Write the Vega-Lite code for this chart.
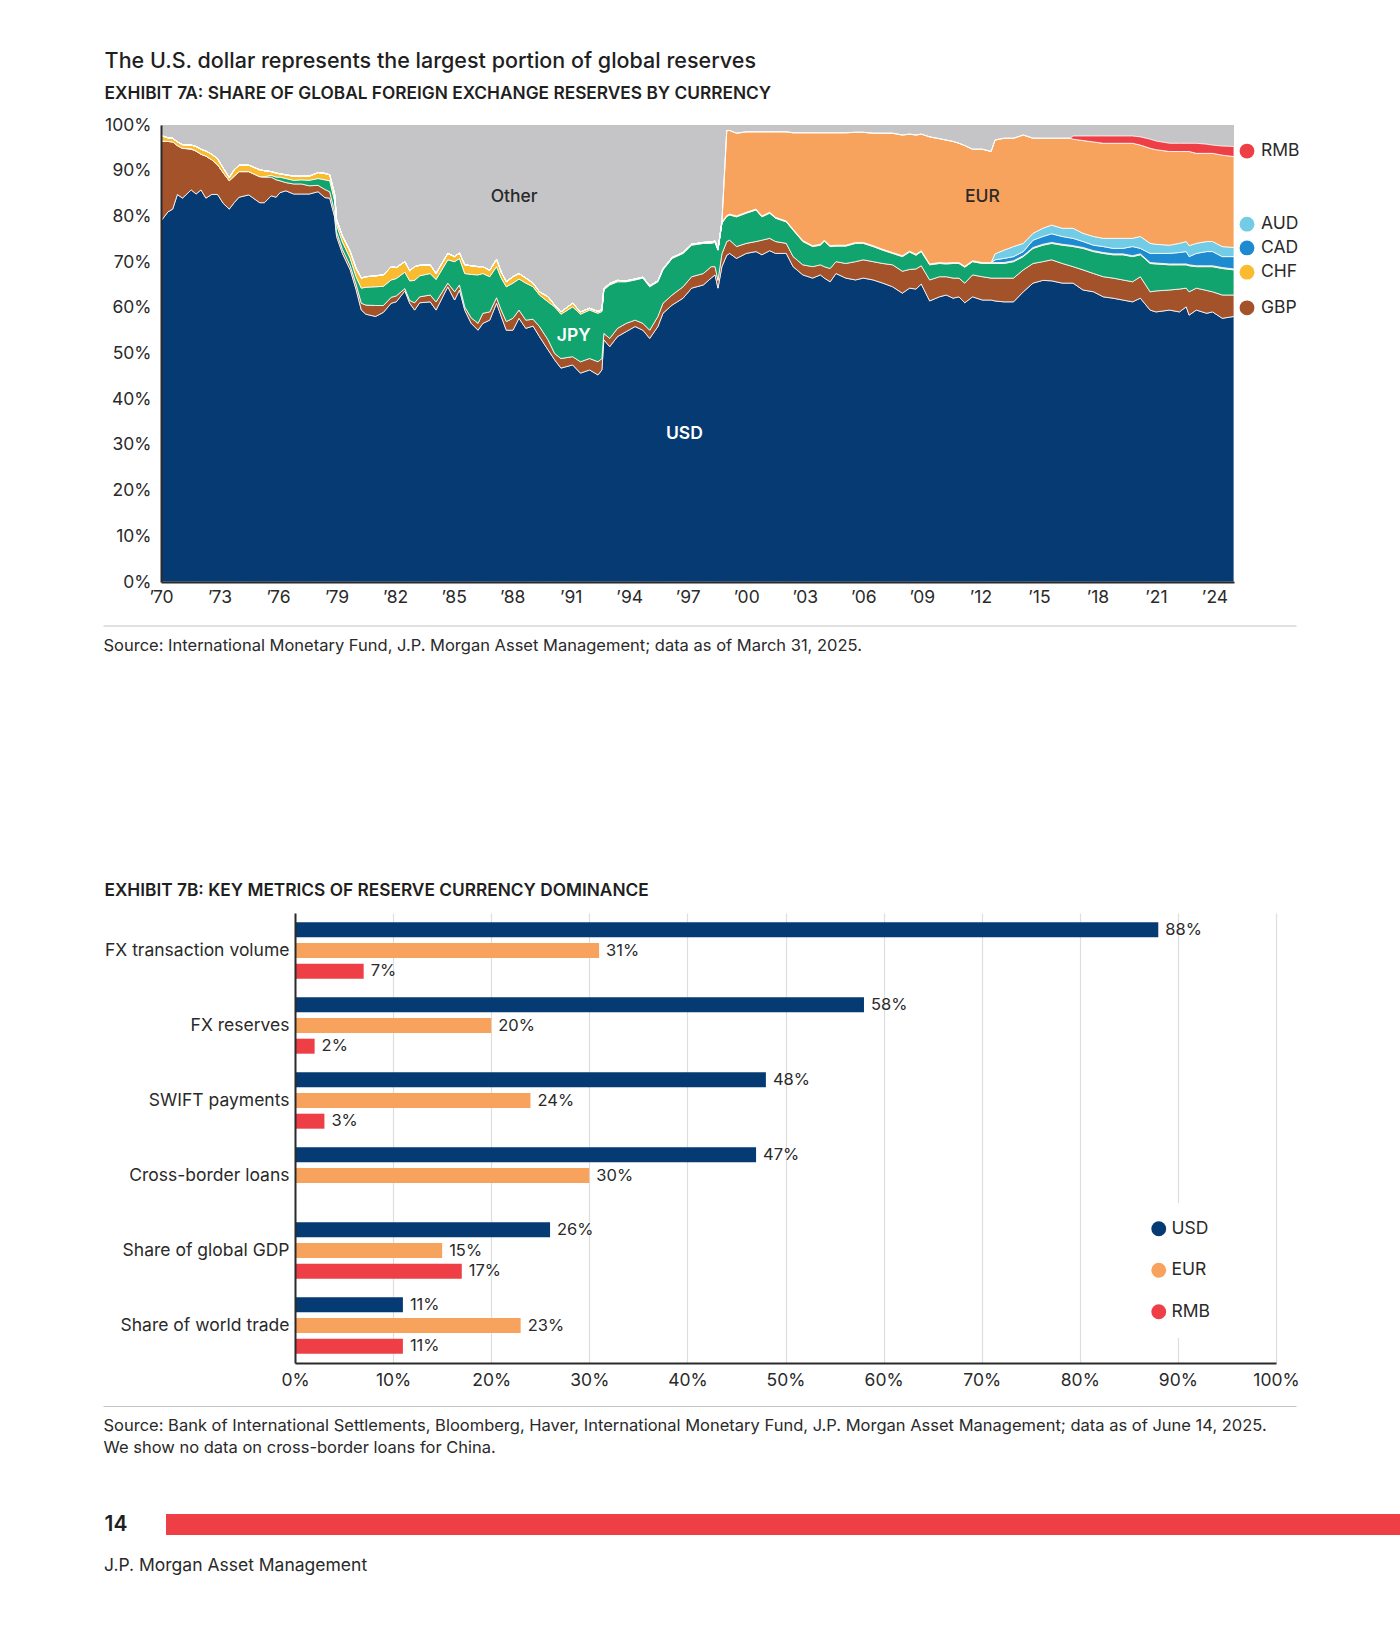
{
"$schema": "https://vega.github.io/schema/vega-lite/v6.json",
"padding": {"left": 103, "top": 50, "right": 0, "bottom": 0},
"background": "white",
"config": {"font": "Inter", "view": {"stroke": null}, "axis": {"labelColor": "#2a2a2a", "labelFontSize": 17.5}, "concat": {"spacing": 0}},
"resolve": {"scale": {"color": "independent"}, "legend": {"color": "independent"}},
"concat": [
{"concat": [
{"width": 1, "height": 1, "data": {"values": []}, "mark": "point"},
{
"width": 1073, "height": 457,
"view": {"fill": "#c5c5c7"},
"title": {"text": "The U.S. dollar represents the largest portion of global reserves", "subtitle": "EXHIBIT 7A: SHARE OF GLOBAL FOREIGN EXCHANGE RESERVES BY CURRENCY", "anchor": "start", "frame": "bounds", "fontSize": 21.5, "fontWeight": 500, "color": "#1f1f1f", "subtitleFontSize": 17.3, "subtitleFontWeight": 600, "subtitleColor": "#1f1f1f", "subtitlePadding": 12.5, "offset": 14},
"layer": [
{
"data": {"values": [
{"t":1970.0,"USD":79.0,"GBP":17.5,"JPY":0,"CHF":1.2,"CAD":0,"AUD":0,"EUR":0,"RMB":0},
{"t":1970.36,"USD":81.0,"GBP":15.4,"JPY":0,"CHF":0.8,"CAD":0,"AUD":0,"EUR":0,"RMB":0},
{"t":1970.6,"USD":81.6,"GBP":14.7,"JPY":0,"CHF":0.8,"CAD":0,"AUD":0,"EUR":0,"RMB":0},
{"t":1970.84,"USD":84.8,"GBP":10.7,"JPY":0,"CHF":0.8,"CAD":0,"AUD":0,"EUR":0,"RMB":0},
{"t":1971.1,"USD":84.0,"GBP":10.9,"JPY":0,"CHF":0.8,"CAD":0,"AUD":0,"EUR":0,"RMB":0},
{"t":1971.55,"USD":85.8,"GBP":8.9,"JPY":0.1,"CHF":0.8,"CAD":0,"AUD":0,"EUR":0,"RMB":0},
{"t":1971.8,"USD":84.9,"GBP":9.4,"JPY":0,"CHF":1.0,"CAD":0,"AUD":0,"EUR":0,"RMB":0},
{"t":1972.05,"USD":85.8,"GBP":7.8,"JPY":0,"CHF":1.1,"CAD":0,"AUD":0,"EUR":0,"RMB":0},
{"t":1972.3,"USD":84.0,"GBP":9.2,"JPY":0,"CHF":1.1,"CAD":0,"AUD":0,"EUR":0,"RMB":0},
{"t":1972.6,"USD":84.8,"GBP":7.6,"JPY":0,"CHF":1.2,"CAD":0,"AUD":0,"EUR":0,"RMB":0},
{"t":1972.9,"USD":84.8,"GBP":6.5,"JPY":0,"CHF":1.3,"CAD":0,"AUD":0,"EUR":0,"RMB":0},
{"t":1973.2,"USD":82.8,"GBP":6.7,"JPY":0,"CHF":1.0,"CAD":0,"AUD":0,"EUR":0,"RMB":0},
{"t":1973.5,"USD":81.6,"GBP":6.2,"JPY":0,"CHF":0.7,"CAD":0,"AUD":0,"EUR":0,"RMB":0},
{"t":1973.75,"USD":83.0,"GBP":5.8,"JPY":0,"CHF":1.4,"CAD":0,"AUD":0,"EUR":0,"RMB":0},
{"t":1974.0,"USD":84.2,"GBP":5.6,"JPY":0,"CHF":1.4,"CAD":0,"AUD":0,"EUR":0,"RMB":0},
{"t":1974.5,"USD":84.7,"GBP":5.1,"JPY":0,"CHF":1.4,"CAD":0,"AUD":0,"EUR":0,"RMB":0},
{"t":1975.06,"USD":83.0,"GBP":5.7,"JPY":0,"CHF":1.5,"CAD":0,"AUD":0,"EUR":0,"RMB":0},
{"t":1975.3,"USD":83.0,"GBP":5.6,"JPY":0.1,"CHF":1.3,"CAD":0,"AUD":0,"EUR":0,"RMB":0},
{"t":1975.65,"USD":84.5,"GBP":4.1,"JPY":0.4,"CHF":0.8,"CAD":0,"AUD":0,"EUR":0,"RMB":0},
{"t":1975.9,"USD":84.2,"GBP":3.8,"JPY":0.6,"CHF":0.9,"CAD":0,"AUD":0,"EUR":0,"RMB":0},
{"t":1976.1,"USD":85.2,"GBP":2.6,"JPY":0.8,"CHF":0.7,"CAD":0,"AUD":0,"EUR":0,"RMB":0},
{"t":1976.4,"USD":85.6,"GBP":1.8,"JPY":0.9,"CHF":0.8,"CAD":0,"AUD":0,"EUR":0,"RMB":0},
{"t":1976.8,"USD":84.9,"GBP":2.2,"JPY":0.8,"CHF":0.9,"CAD":0,"AUD":0,"EUR":0,"RMB":0},
{"t":1977.2,"USD":84.9,"GBP":2.2,"JPY":0.9,"CHF":0.8,"CAD":0,"AUD":0,"EUR":0,"RMB":0},
{"t":1977.6,"USD":84.9,"GBP":1.8,"JPY":1.2,"CHF":0.9,"CAD":0,"AUD":0,"EUR":0,"RMB":0},
{"t":1978.05,"USD":85.4,"GBP":1.4,"JPY":1.5,"CHF":1.3,"CAD":0,"AUD":0,"EUR":0,"RMB":0},
{"t":1978.4,"USD":84.1,"GBP":1.8,"JPY":2.1,"CHF":1.4,"CAD":0,"AUD":0,"EUR":0,"RMB":0},
{"t":1978.65,"USD":84.0,"GBP":1.4,"JPY":2.4,"CHF":1.3,"CAD":0,"AUD":0,"EUR":0,"RMB":0},
{"t":1978.9,"USD":79.9,"GBP":1.1,"JPY":2.4,"CHF":1.4,"CAD":0,"AUD":0,"EUR":0,"RMB":0},
{"t":1979.0,"USD":75.6,"GBP":1.0,"JPY":1.6,"CHF":1.1,"CAD":0,"AUD":0,"EUR":0,"RMB":0},
{"t":1979.3,"USD":71.9,"GBP":0.9,"JPY":1.6,"CHF":1.3,"CAD":0,"AUD":0,"EUR":0,"RMB":0},
{"t":1979.7,"USD":68.3,"GBP":0.9,"JPY":1.6,"CHF":1.5,"CAD":0,"AUD":0,"EUR":0,"RMB":0},
{"t":1980.0,"USD":64.0,"GBP":1.2,"JPY":1.6,"CHF":1.8,"CAD":0,"AUD":0,"EUR":0,"RMB":0},
{"t":1980.27,"USD":59.5,"GBP":1.5,"JPY":3.3,"CHF":2.2,"CAD":0,"AUD":0,"EUR":0,"RMB":0},
{"t":1980.5,"USD":58.6,"GBP":2.0,"JPY":3.9,"CHF":2.3,"CAD":0,"AUD":0,"EUR":0,"RMB":0},
{"t":1981.0,"USD":58.1,"GBP":2.4,"JPY":4.1,"CHF":2.4,"CAD":0,"AUD":0,"EUR":0,"RMB":0},
{"t":1981.4,"USD":59.0,"GBP":1.5,"JPY":4.2,"CHF":2.5,"CAD":0,"AUD":0,"EUR":0,"RMB":0},
{"t":1981.8,"USD":61.0,"GBP":1.3,"JPY":3.8,"CHF":2.9,"CAD":0,"AUD":0,"EUR":0,"RMB":0},
{"t":1982.06,"USD":61.3,"GBP":1.3,"JPY":3.8,"CHF":2.4,"CAD":0,"AUD":0,"EUR":0,"RMB":0},
{"t":1982.5,"USD":63.7,"GBP":0.5,"JPY":3.6,"CHF":2.3,"CAD":0,"AUD":0,"EUR":0,"RMB":0},
{"t":1982.75,"USD":61.0,"GBP":0.6,"JPY":4.3,"CHF":2.2,"CAD":0,"AUD":0,"EUR":0,"RMB":0},
{"t":1983.0,"USD":59.5,"GBP":1.6,"JPY":4.9,"CHF":3.0,"CAD":0,"AUD":0,"EUR":0,"RMB":0},
{"t":1983.26,"USD":61.1,"GBP":1.3,"JPY":4.6,"CHF":2.3,"CAD":0,"AUD":0,"EUR":0,"RMB":0},
{"t":1983.8,"USD":61.3,"GBP":1.5,"JPY":4.7,"CHF":1.9,"CAD":0,"AUD":0,"EUR":0,"RMB":0},
{"t":1984.1,"USD":59.5,"GBP":1.8,"JPY":4.9,"CHF":1.3,"CAD":0,"AUD":0,"EUR":0,"RMB":0},
{"t":1984.7,"USD":64.6,"GBP":0.8,"JPY":5.1,"CHF":1.4,"CAD":0,"AUD":0,"EUR":0,"RMB":0},
{"t":1985.05,"USD":61.7,"GBP":1.8,"JPY":6.6,"CHF":1.1,"CAD":0,"AUD":0,"EUR":0,"RMB":0},
{"t":1985.3,"USD":63.9,"GBP":1.1,"JPY":5.8,"CHF":1.2,"CAD":0,"AUD":0,"EUR":0,"RMB":0},
{"t":1985.57,"USD":59.5,"GBP":0.7,"JPY":7.3,"CHF":1.9,"CAD":0,"AUD":0,"EUR":0,"RMB":0},
{"t":1985.9,"USD":56.6,"GBP":1.2,"JPY":9.5,"CHF":1.9,"CAD":0,"AUD":0,"EUR":0,"RMB":0},
{"t":1986.25,"USD":55.1,"GBP":1.5,"JPY":10.6,"CHF":1.8,"CAD":0,"AUD":0,"EUR":0,"RMB":0},
{"t":1986.5,"USD":56.6,"GBP":2.2,"JPY":8.7,"CHF":1.5,"CAD":0,"AUD":0,"EUR":0,"RMB":0},
{"t":1986.85,"USD":57.3,"GBP":1.8,"JPY":7.7,"CHF":1.4,"CAD":0,"AUD":0,"EUR":0,"RMB":0},
{"t":1987.2,"USD":61.0,"GBP":1.2,"JPY":6.8,"CHF":1.6,"CAD":0,"AUD":0,"EUR":0,"RMB":0},
{"t":1987.44,"USD":58.1,"GBP":1.4,"JPY":7.0,"CHF":1.3,"CAD":0,"AUD":0,"EUR":0,"RMB":0},
{"t":1987.7,"USD":55.1,"GBP":1.9,"JPY":7.6,"CHF":1.1,"CAD":0,"AUD":0,"EUR":0,"RMB":0},
{"t":1988.04,"USD":55.1,"GBP":2.6,"JPY":7.7,"CHF":1.4,"CAD":0,"AUD":0,"EUR":0,"RMB":0},
{"t":1988.35,"USD":57.7,"GBP":1.8,"JPY":6.8,"CHF":1.2,"CAD":0,"AUD":0,"EUR":0,"RMB":0},
{"t":1988.7,"USD":55.5,"GBP":1.8,"JPY":8.1,"CHF":1.1,"CAD":0,"AUD":0,"EUR":0,"RMB":0},
{"t":1989.07,"USD":56.0,"GBP":1.5,"JPY":7.1,"CHF":0.8,"CAD":0,"AUD":0,"EUR":0,"RMB":0},
{"t":1989.4,"USD":53.7,"GBP":2.2,"JPY":6.9,"CHF":0.7,"CAD":0,"AUD":0,"EUR":0,"RMB":0},
{"t":1989.84,"USD":50.8,"GBP":2.2,"JPY":8.3,"CHF":1.1,"CAD":0,"AUD":0,"EUR":0,"RMB":0},
{"t":1990.18,"USD":48.6,"GBP":1.4,"JPY":10.2,"CHF":0.4,"CAD":0,"AUD":0,"EUR":0,"RMB":0},
{"t":1990.5,"USD":46.8,"GBP":2.1,"JPY":9.7,"CHF":0.5,"CAD":0,"AUD":0,"EUR":0,"RMB":0},
{"t":1991.1,"USD":47.5,"GBP":1.8,"JPY":10.9,"CHF":0.8,"CAD":0,"AUD":0,"EUR":0,"RMB":0},
{"t":1991.5,"USD":45.7,"GBP":2.5,"JPY":10.4,"CHF":0.5,"CAD":0,"AUD":0,"EUR":0,"RMB":0},
{"t":1991.97,"USD":46.4,"GBP":2.5,"JPY":10.6,"CHF":0.4,"CAD":0,"AUD":0,"EUR":0,"RMB":0},
{"t":1992.4,"USD":45.3,"GBP":2.9,"JPY":10.6,"CHF":0.4,"CAD":0,"AUD":0,"EUR":0,"RMB":0},
{"t":1992.6,"USD":46.4,"GBP":2.5,"JPY":10.3,"CHF":0.4,"CAD":0,"AUD":0,"EUR":0,"RMB":0},
{"t":1992.7,"USD":53.0,"GBP":1.4,"JPY":9.5,"CHF":0.3,"CAD":0,"AUD":0,"EUR":0,"RMB":0},
{"t":1993.0,"USD":51.5,"GBP":1.8,"JPY":11.7,"CHF":0.3,"CAD":0,"AUD":0,"EUR":0,"RMB":0},
{"t":1993.4,"USD":53.7,"GBP":1.8,"JPY":10.2,"CHF":0.3,"CAD":0,"AUD":0,"EUR":0,"RMB":0},
{"t":1993.85,"USD":54.8,"GBP":1.8,"JPY":9.1,"CHF":0.2,"CAD":0,"AUD":0,"EUR":0,"RMB":0},
{"t":1994.3,"USD":55.9,"GBP":1.4,"JPY":8.8,"CHF":0.2,"CAD":0,"AUD":0,"EUR":0,"RMB":0},
{"t":1994.7,"USD":55.1,"GBP":1.5,"JPY":9.9,"CHF":0.2,"CAD":0,"AUD":0,"EUR":0,"RMB":0},
{"t":1995.05,"USD":53.3,"GBP":1.8,"JPY":9.5,"CHF":0.2,"CAD":0,"AUD":0,"EUR":0,"RMB":0},
{"t":1995.47,"USD":55.9,"GBP":2.2,"JPY":7.6,"CHF":0.2,"CAD":0,"AUD":0,"EUR":0,"RMB":0},
{"t":1995.73,"USD":58.8,"GBP":2.2,"JPY":7.3,"CHF":0.2,"CAD":0,"AUD":0,"EUR":0,"RMB":0},
{"t":1996.2,"USD":60.6,"GBP":2.2,"JPY":8.0,"CHF":0.2,"CAD":0,"AUD":0,"EUR":0,"RMB":0},
{"t":1996.76,"USD":62.1,"GBP":2.5,"JPY":7.3,"CHF":0.2,"CAD":0,"AUD":0,"EUR":0,"RMB":0},
{"t":1997.2,"USD":64.3,"GBP":2.5,"JPY":6.9,"CHF":0.2,"CAD":0,"AUD":0,"EUR":0,"RMB":0},
{"t":1997.8,"USD":65.0,"GBP":2.5,"JPY":6.6,"CHF":0.2,"CAD":0,"AUD":0,"EUR":0,"RMB":0},
{"t":1998.2,"USD":66.5,"GBP":2.5,"JPY":5.1,"CHF":0.3,"CAD":0,"AUD":0,"EUR":0,"RMB":0},
{"t":1998.4,"USD":67.2,"GBP":1.8,"JPY":5.3,"CHF":0.3,"CAD":0,"AUD":0,"EUR":0,"RMB":0},
{"t":1998.55,"USD":64.3,"GBP":1.7,"JPY":6.6,"CHF":0.2,"CAD":0,"AUD":0,"EUR":0,"RMB":0},
{"t":1998.75,"USD":69.0,"GBP":2.8,"JPY":6.7,"CHF":0.2,"CAD":0,"AUD":0,"EUR":0,"RMB":0},
{"t":1999.0,"USD":71.5,"GBP":3.0,"JPY":5.5,"CHF":0.2,"CAD":0,"AUD":0,"EUR":18.6,"RMB":0},
{"t":1999.15,"USD":71.9,"GBP":2.9,"JPY":5.5,"CHF":0.2,"CAD":0,"AUD":0,"EUR":18.3,"RMB":0},
{"t":1999.5,"USD":70.8,"GBP":2.6,"JPY":6.5,"CHF":0.2,"CAD":0,"AUD":0,"EUR":18.1,"RMB":0},
{"t":2000.0,"USD":71.9,"GBP":2.2,"JPY":6.6,"CHF":0.2,"CAD":0,"AUD":0,"EUR":17.6,"RMB":0},
{"t":2000.5,"USD":72.3,"GBP":2.2,"JPY":6.9,"CHF":0.2,"CAD":0,"AUD":0,"EUR":16.9,"RMB":0},
{"t":2000.8,"USD":71.6,"GBP":3.2,"JPY":5.1,"CHF":0.2,"CAD":0,"AUD":0,"EUR":18.4,"RMB":0},
{"t":2001.2,"USD":72.5,"GBP":2.7,"JPY":5.5,"CHF":0.2,"CAD":0,"AUD":0,"EUR":17.6,"RMB":0},
{"t":2001.5,"USD":71.9,"GBP":2.6,"JPY":5.1,"CHF":0.2,"CAD":0,"AUD":0,"EUR":18.7,"RMB":0},
{"t":2002.05,"USD":71.9,"GBP":2.2,"JPY":4.7,"CHF":0.2,"CAD":0,"AUD":0,"EUR":19.5,"RMB":0},
{"t":2002.4,"USD":69.0,"GBP":2.2,"JPY":5.8,"CHF":0.2,"CAD":0,"AUD":0,"EUR":21.1,"RMB":0},
{"t":2002.9,"USD":67.2,"GBP":2.2,"JPY":5.1,"CHF":0.2,"CAD":0,"AUD":0,"EUR":23.6,"RMB":0},
{"t":2003.4,"USD":66.5,"GBP":2.5,"JPY":4.4,"CHF":0.2,"CAD":0,"AUD":0,"EUR":24.7,"RMB":0},
{"t":2003.8,"USD":67.2,"GBP":2.2,"JPY":4.3,"CHF":0.2,"CAD":0,"AUD":0,"EUR":24.4,"RMB":0},
{"t":2004.0,"USD":66.5,"GBP":2.5,"JPY":5.6,"CHF":0.2,"CAD":0,"AUD":0,"EUR":23.5,"RMB":0},
{"t":2004.3,"USD":65.7,"GBP":2.9,"JPY":4.8,"CHF":0.2,"CAD":0,"AUD":0,"EUR":24.7,"RMB":0},
{"t":2004.6,"USD":67.5,"GBP":2.6,"JPY":3.4,"CHF":0.2,"CAD":0,"AUD":0,"EUR":24.6,"RMB":0},
{"t":2005.1,"USD":66.5,"GBP":3.2,"JPY":3.8,"CHF":0.2,"CAD":0,"AUD":0,"EUR":24.6,"RMB":0},
{"t":2005.6,"USD":66.1,"GBP":4.0,"JPY":4.0,"CHF":0.2,"CAD":0,"AUD":0,"EUR":24.1,"RMB":0},
{"t":2006.0,"USD":66.5,"GBP":4.0,"JPY":3.6,"CHF":0.2,"CAD":0,"AUD":0,"EUR":24.1,"RMB":0},
{"t":2006.5,"USD":66.1,"GBP":4.0,"JPY":3.3,"CHF":0.2,"CAD":0,"AUD":0,"EUR":24.6,"RMB":0},
{"t":2007.0,"USD":65.4,"GBP":4.3,"JPY":2.9,"CHF":0.2,"CAD":0,"AUD":0,"EUR":25.4,"RMB":0},
{"t":2007.5,"USD":64.6,"GBP":4.8,"JPY":2.5,"CHF":0.2,"CAD":0,"AUD":0,"EUR":26.1,"RMB":0},
{"t":2008.0,"USD":63.2,"GBP":4.8,"JPY":3.2,"CHF":0.2,"CAD":0,"AUD":0,"EUR":26.4,"RMB":0},
{"t":2008.37,"USD":64.3,"GBP":4.1,"JPY":3.8,"CHF":0.2,"CAD":0,"AUD":0,"EUR":25.6,"RMB":0},
{"t":2008.7,"USD":64.1,"GBP":4.4,"JPY":3.0,"CHF":0.2,"CAD":0,"AUD":0,"EUR":26.1,"RMB":0},
{"t":2008.97,"USD":65.2,"GBP":4.0,"JPY":3.1,"CHF":0.2,"CAD":0,"AUD":0,"EUR":25.5,"RMB":0},
{"t":2009.4,"USD":61.5,"GBP":4.6,"JPY":3.3,"CHF":0.2,"CAD":0,"AUD":0,"EUR":27.8,"RMB":0},
{"t":2009.9,"USD":62.4,"GBP":4.4,"JPY":2.9,"CHF":0.2,"CAD":0,"AUD":0,"EUR":27.1,"RMB":0},
{"t":2010.25,"USD":62.8,"GBP":4.0,"JPY":2.8,"CHF":0.2,"CAD":0,"AUD":0,"EUR":26.9,"RMB":0},
{"t":2010.6,"USD":62.1,"GBP":4.4,"JPY":3.2,"CHF":0.2,"CAD":0,"AUD":0,"EUR":26.5,"RMB":0},
{"t":2010.9,"USD":62.4,"GBP":4.1,"JPY":3.2,"CHF":0.2,"CAD":0,"AUD":0,"EUR":26.1,"RMB":0},
{"t":2011.2,"USD":61.1,"GBP":4.3,"JPY":3.5,"CHF":0.2,"CAD":0,"AUD":0,"EUR":26.4,"RMB":0},
{"t":2011.6,"USD":62.4,"GBP":4.8,"JPY":2.9,"CHF":0.2,"CAD":0,"AUD":0,"EUR":24.4,"RMB":0},
{"t":2012.1,"USD":61.7,"GBP":5.1,"JPY":2.9,"CHF":0.2,"CAD":0,"AUD":0,"EUR":24.8,"RMB":0},
{"t":2012.55,"USD":61.7,"GBP":4.8,"JPY":3.2,"CHF":0.2,"CAD":0,"AUD":0,"EUR":24.3,"RMB":0},
{"t":2012.75,"USD":61.5,"GBP":5.0,"JPY":3.2,"CHF":0.2,"CAD":0.6,"AUD":1.3,"EUR":24.9,"RMB":0},
{"t":2013.2,"USD":61.3,"GBP":5.2,"JPY":3.2,"CHF":0.2,"CAD":0.9,"AUD":1.8,"EUR":24.5,"RMB":0},
{"t":2013.7,"USD":61.3,"GBP":5.2,"JPY":3.6,"CHF":0.2,"CAD":0.9,"AUD":2.2,"EUR":23.7,"RMB":0},
{"t":2014.2,"USD":63.5,"GBP":4.8,"JPY":2.9,"CHF":0.2,"CAD":0.9,"AUD":1.8,"EUR":23.7,"RMB":0},
{"t":2014.7,"USD":65.4,"GBP":4.3,"JPY":3.3,"CHF":0.2,"CAD":1.6,"AUD":1.5,"EUR":20.8,"RMB":0},
{"t":2015.2,"USD":66.0,"GBP":4.1,"JPY":3.6,"CHF":0.2,"CAD":1.7,"AUD":1.8,"EUR":19.7,"RMB":0},
{"t":2015.65,"USD":65.9,"GBP":4.6,"JPY":3.6,"CHF":0.2,"CAD":1.9,"AUD":1.9,"EUR":19.0,"RMB":0},
{"t":2016.2,"USD":65.4,"GBP":4.3,"JPY":4.0,"CHF":0.2,"CAD":1.7,"AUD":1.8,"EUR":19.7,"RMB":0},
{"t":2016.6,"USD":65.4,"GBP":3.8,"JPY":4.3,"CHF":0.2,"CAD":1.6,"AUD":2.1,"EUR":19.7,"RMB":0},
{"t":2016.75,"USD":65.4,"GBP":3.6,"JPY":4.4,"CHF":0.2,"CAD":1.6,"AUD":2.2,"EUR":19.5,"RMB":0.7},
{"t":2017.26,"USD":63.9,"GBP":4.4,"JPY":4.7,"CHF":0.2,"CAD":1.3,"AUD":1.8,"EUR":20.3,"RMB":1.0},
{"t":2017.8,"USD":63.5,"GBP":4.0,"JPY":4.8,"CHF":0.2,"CAD":1.2,"AUD":1.9,"EUR":20.7,"RMB":1.3},
{"t":2018.3,"USD":62.4,"GBP":4.4,"JPY":5.1,"CHF":0.2,"CAD":1.3,"AUD":1.8,"EUR":20.8,"RMB":1.6},
{"t":2018.8,"USD":62.1,"GBP":4.4,"JPY":5.1,"CHF":0.2,"CAD":1.2,"AUD":2.2,"EUR":20.8,"RMB":1.6},
{"t":2019.3,"USD":61.7,"GBP":4.4,"JPY":5.5,"CHF":0.2,"CAD":1.2,"AUD":2.2,"EUR":20.8,"RMB":1.6},
{"t":2019.8,"USD":61.3,"GBP":4.4,"JPY":5.5,"CHF":0.2,"CAD":2.0,"AUD":1.8,"EUR":20.8,"RMB":1.6},
{"t":2020.2,"USD":62.1,"GBP":4.7,"JPY":4.8,"CHF":0.2,"CAD":1.2,"AUD":2.6,"EUR":20.0,"RMB":1.8},
{"t":2020.7,"USD":59.5,"GBP":4.0,"JPY":6.2,"CHF":0.2,"CAD":2.0,"AUD":2.2,"EUR":20.8,"RMB":2.0},
{"t":2021.0,"USD":59.1,"GBP":4.6,"JPY":5.9,"CHF":0.2,"CAD":2.1,"AUD":2.0,"EUR":20.7,"RMB":1.9},
{"t":2021.7,"USD":59.5,"GBP":4.4,"JPY":5.5,"CHF":0.2,"CAD":2.3,"AUD":1.8,"EUR":20.5,"RMB":1.8},
{"t":2022.2,"USD":59.1,"GBP":5.0,"JPY":5.3,"CHF":0.2,"CAD":2.5,"AUD":2.0,"EUR":20.1,"RMB":1.8},
{"t":2022.55,"USD":60.2,"GBP":4.1,"JPY":5.1,"CHF":0.2,"CAD":2.7,"AUD":2.2,"EUR":19.7,"RMB":1.8},
{"t":2022.7,"USD":58.4,"GBP":5.1,"JPY":5.7,"CHF":0.2,"CAD":1.8,"AUD":2.4,"EUR":20.6,"RMB":1.8},
{"t":2023.07,"USD":59.5,"GBP":4.8,"JPY":4.7,"CHF":0.2,"CAD":2.7,"AUD":2.2,"EUR":19.7,"RMB":2.2},
{"t":2023.6,"USD":58.8,"GBP":5.0,"JPY":5.2,"CHF":0.2,"CAD":3.1,"AUD":2.2,"EUR":19.3,"RMB":2.0},
{"t":2023.9,"USD":59.1,"GBP":4.4,"JPY":5.5,"CHF":0.2,"CAD":3.1,"AUD":2.2,"EUR":19.3,"RMB":1.8},
{"t":2024.4,"USD":57.7,"GBP":5.1,"JPY":5.8,"CHF":0.2,"CAD":2.4,"AUD":2.2,"EUR":20.0,"RMB":2.0},
{"t":2025.0,"USD":58.1,"GBP":4.7,"JPY":5.5,"CHF":0.2,"CAD":2.7,"AUD":2.0,"EUR":19.9,"RMB":2.2}
]},
"transform": [
 {"fold": ["USD","GBP","JPY","CHF","CAD","AUD","EUR","RMB"], "as": ["key","share"]},
 {"lookup": "key", "from": {"data": {"values": [{"key":"USD","ord":1},{"key":"GBP","ord":2},{"key":"JPY","ord":3},{"key":"CHF","ord":4},{"key":"CAD","ord":5},{"key":"AUD","ord":6},{"key":"EUR","ord":7},{"key":"RMB","ord":8}]}, "key": "key", "fields": ["ord"]}}
],
"mark": {"type": "area", "stroke": "#ffffff", "strokeWidth": 0.8, "strokeJoin": "round"},
"encoding": {
"x": {"field": "t", "type": "quantitative", "scale": {"domain": [1970, 2025], "nice": false, "zero": false},
 "axis": {"title": null, "values": [1970,1973,1976,1979,1982,1985,1988,1991,1994,1997,2000,2003,2006,2009,2012,2015,2018,2021,2024], "labelExpr": "'’' + substring(toString(datum.value), 2)", "ticks": false, "grid": false, "domainColor": "#2a2a2a", "domainWidth": 2, "labelPadding": 6, "labelFlush": false, "zindex": 1}},
"y": {"field": "share", "type": "quantitative", "stack": "zero", "scale": {"domain": [0, 100], "nice": false},
 "axis": {"title": null, "values": [0,10,20,30,40,50,60,70,80,90,100], "labelExpr": "datum.value + '%'", "ticks": false, "grid": false, "domainColor": "#2a2a2a", "domainWidth": 2, "labelPadding": 10, "minExtent": 54, "zindex": 1}},
"color": {"field": "key", "type": "nominal",
 "scale": {"domain": ["USD","GBP","JPY","CHF","CAD","AUD","EUR","RMB"], "range": ["#063a72","#a4522a","#12a46e","#fbbb30","#1e8bd0","#72cce6","#f8a35d","#ee3f46"]}, "legend": null},
"order": {"field": "ord", "type": "quantitative", "sort": "ascending"}
}
},
{
"data": {"values": [{"lab": "Other", "t": 1988.1, "p": 84.3}, {"lab": "EUR", "t": 2012.1, "p": 84.3}]},
"mark": {"type": "text", "fontSize": 17.5, "fontWeight": 500, "color": "#2a2a2a", "baseline": "middle"},
"encoding": {"x": {"field": "t", "type": "quantitative"}, "y": {"field": "p", "type": "quantitative", "stack": null}, "text": {"field": "lab"}}
},
{
"data": {"values": [{"lab": "JPY", "t": 1991.16, "p": 53.9}, {"lab": "USD", "t": 1996.83, "p": 32.3}]},
"mark": {"type": "text", "fontSize": 17.5, "fontWeight": 600, "color": "#ffffff", "baseline": "middle"},
"encoding": {"x": {"field": "t", "type": "quantitative"}, "y": {"field": "p", "type": "quantitative", "stack": null}, "text": {"field": "lab"}}
},
{
"data": {"values": [{"key": "RMB", "p": 94.3}, {"key": "AUD", "p": 78.3}, {"key": "CAD", "p": 73.1}, {"key": "CHF", "p": 67.8}, {"key": "GBP", "p": 60.0}]},
"layer": [
{"mark": {"type": "circle", "size": 220, "opacity": 1, "xOffset": 13},
 "encoding": {"x": {"datum": 2025}, "y": {"field": "p", "type": "quantitative", "stack": null}, "color": {"field": "key", "type": "nominal", "legend": null}}},
{"mark": {"type": "text", "align": "left", "baseline": "middle", "xOffset": 27, "fontSize": 17.5, "color": "#2a2a2a"},
 "encoding": {"x": {"datum": 2025}, "y": {"field": "p", "type": "quantitative", "stack": null}, "text": {"field": "key"}}}
]
}
]
}
], "columns": 2, "align": "each", "spacing": 0},
{
"width": 1193, "height": 19.5,
"data": {"values": [{"v": 0.5}]},
"mark": {"type": "point", "opacity": 0},
"encoding": {"x": {"field": "v", "type": "quantitative", "scale": {"domain": [0, 1]},
 "axis": {"title": "Source: International Monetary Fund, J.P. Morgan Asset Management; data as of March 31, 2025.", "titleAnchor": "start", "titleAlign": "left", "titleFontSize": 16.5, "titleFontWeight": "normal", "titleColor": "#2a2a2a", "titlePadding": 12, "domainColor": "#c4c4c4", "domainWidth": 1.2, "ticks": false, "labels": false, "grid": false}}}
},
{
"width": 10, "height": 227,
"data": {"values": []},
"mark": "point"
},
{"concat": [
{"width": 1, "height": 1, "data": {"values": []}, "mark": "point"},
{
"width": 981, "height": 450,
"title": {"text": "EXHIBIT 7B: KEY METRICS OF RESERVE CURRENCY DOMINANCE", "anchor": "start", "frame": "bounds", "fontSize": 17.3, "fontWeight": 600, "color": "#1f1f1f", "offset": 14},
"data": {"values": [
{"metric": "FX transaction volume", "cur": "USD", "v": 0.88},
{"metric": "FX transaction volume", "cur": "EUR", "v": 0.31},
{"metric": "FX transaction volume", "cur": "RMB", "v": 0.07},
{"metric": "FX reserves", "cur": "USD", "v": 0.58},
{"metric": "FX reserves", "cur": "EUR", "v": 0.20},
{"metric": "FX reserves", "cur": "RMB", "v": 0.02},
{"metric": "SWIFT payments", "cur": "USD", "v": 0.48},
{"metric": "SWIFT payments", "cur": "EUR", "v": 0.24},
{"metric": "SWIFT payments", "cur": "RMB", "v": 0.03},
{"metric": "Cross-border loans", "cur": "USD", "v": 0.47},
{"metric": "Cross-border loans", "cur": "EUR", "v": 0.30},
{"metric": "Share of global GDP", "cur": "USD", "v": 0.26},
{"metric": "Share of global GDP", "cur": "EUR", "v": 0.15},
{"metric": "Share of global GDP", "cur": "RMB", "v": 0.17},
{"metric": "Share of world trade", "cur": "USD", "v": 0.11},
{"metric": "Share of world trade", "cur": "EUR", "v": 0.23},
{"metric": "Share of world trade", "cur": "RMB", "v": 0.11}
]},
"encoding": {
"y": {"field": "metric", "type": "nominal", "sort": ["FX transaction volume","FX reserves","SWIFT payments","Cross-border loans","Share of global GDP","Share of world trade"], "scale": {"paddingInner": 0, "paddingOuter": 0},
 "axis": {"title": null, "labelFontSize": 17.5, "labelPadding": 6, "ticks": false, "domainColor": "#2a2a2a", "domainWidth": 2, "minExtent": 190, "labelLimit": 0, "zindex": 1}},
"yOffset": {"field": "cur", "type": "nominal", "sort": ["USD","EUR","RMB"], "scale": {"domain": ["USD","EUR","RMB"], "paddingInner": 0.275, "paddingOuter": 0.45}},
"x": {"field": "v", "type": "quantitative", "scale": {"domain": [0, 1], "nice": false},
 "axis": {"title": null, "values": [0,0.1,0.2,0.3,0.4,0.5,0.6,0.7,0.8,0.9,1], "format": ".0%", "grid": true, "gridColor": "#dedede", "gridWidth": 1.2, "ticks": false, "domainColor": "#2a2a2a", "domainWidth": 2, "labelPadding": 8, "labelFlush": false}}
},
"layer": [
{"mark": {"type": "bar"},
 "encoding": {"color": {"field": "cur", "type": "nominal", "scale": {"domain": ["USD","EUR","RMB"], "range": ["#063a72","#f8a35d","#ee3f46"]},
  "legend": {"title": null, "orient": "none", "legendX": 1030, "legendY": 290, "direction": "vertical", "symbolType": "circle", "symbolSize": 220, "symbolStrokeWidth": 0, "symbolOpacity": 1, "labelFontSize": 17.5, "labelColor": "#2a2a2a", "labelOffset": 4, "rowPadding": 22.5, "padding": 17, "fillColor": "#ffffff"}}}},
{"mark": {"type": "text", "align": "left", "baseline": "middle", "dx": 7, "fontSize": 16.5, "color": "#2a2a2a"},
 "encoding": {"text": {"field": "v", "type": "quantitative", "format": ".0%"}}}
]
}
], "columns": 2, "align": "each", "spacing": 0},
{
"width": 1193, "height": 17,
"data": {"values": [{"v": 0.5}]},
"mark": {"type": "point", "opacity": 0},
"encoding": {"x": {"field": "v", "type": "quantitative", "scale": {"domain": [0, 1]},
 "axis": {"title": ["Source: Bank of International Settlements, Bloomberg, Haver, International Monetary Fund, J.P. Morgan Asset Management; data as of June 14, 2025.", "We show no data on cross-border loans for China."], "titleAnchor": "start", "titleAlign": "left", "titleFontSize": 16.5, "titleFontWeight": "normal", "titleColor": "#2a2a2a", "titlePadding": 11.5, "titleLineHeight": 21.5, "domainColor": "#c4c4c4", "domainWidth": 1.2, "ticks": false, "labels": false, "grid": false}}}
},
{
"width": 10, "height": 57,
"data": {"values": []},
"mark": "point"
},
{"concat": [
{"width": 1, "height": 1, "data": {"values": []}, "mark": "point"},
{
"width": 1234, "height": 21,
"title": {"text": "J.P. Morgan Asset Management", "orient": "bottom", "anchor": "start", "frame": "bounds", "fontSize": 17.5, "fontWeight": "normal", "color": "#2a2a2a", "offset": 22},
"data": {"values": [{"page": "14", "v": 1}]},
"mark": {"type": "bar", "color": "#ee3f46"},
"encoding": {
"x": {"field": "v", "type": "quantitative", "scale": {"domain": [0, 1], "nice": false}, "axis": null},
"y": {"field": "page", "type": "nominal", "scale": {"paddingInner": 0, "paddingOuter": 0},
 "axis": {"title": null, "domain": false, "ticks": false, "labelAlign": "left", "labelPadding": 62, "minExtent": 62, "labelFontSize": 21, "labelFontWeight": 600, "labelColor": "#1f1f1f"}}
}
}
], "columns": 2, "align": "each", "spacing": 0}
],
"columns": 1,
"align": "none",
"spacing": 0,
"bounds": "full"
}
